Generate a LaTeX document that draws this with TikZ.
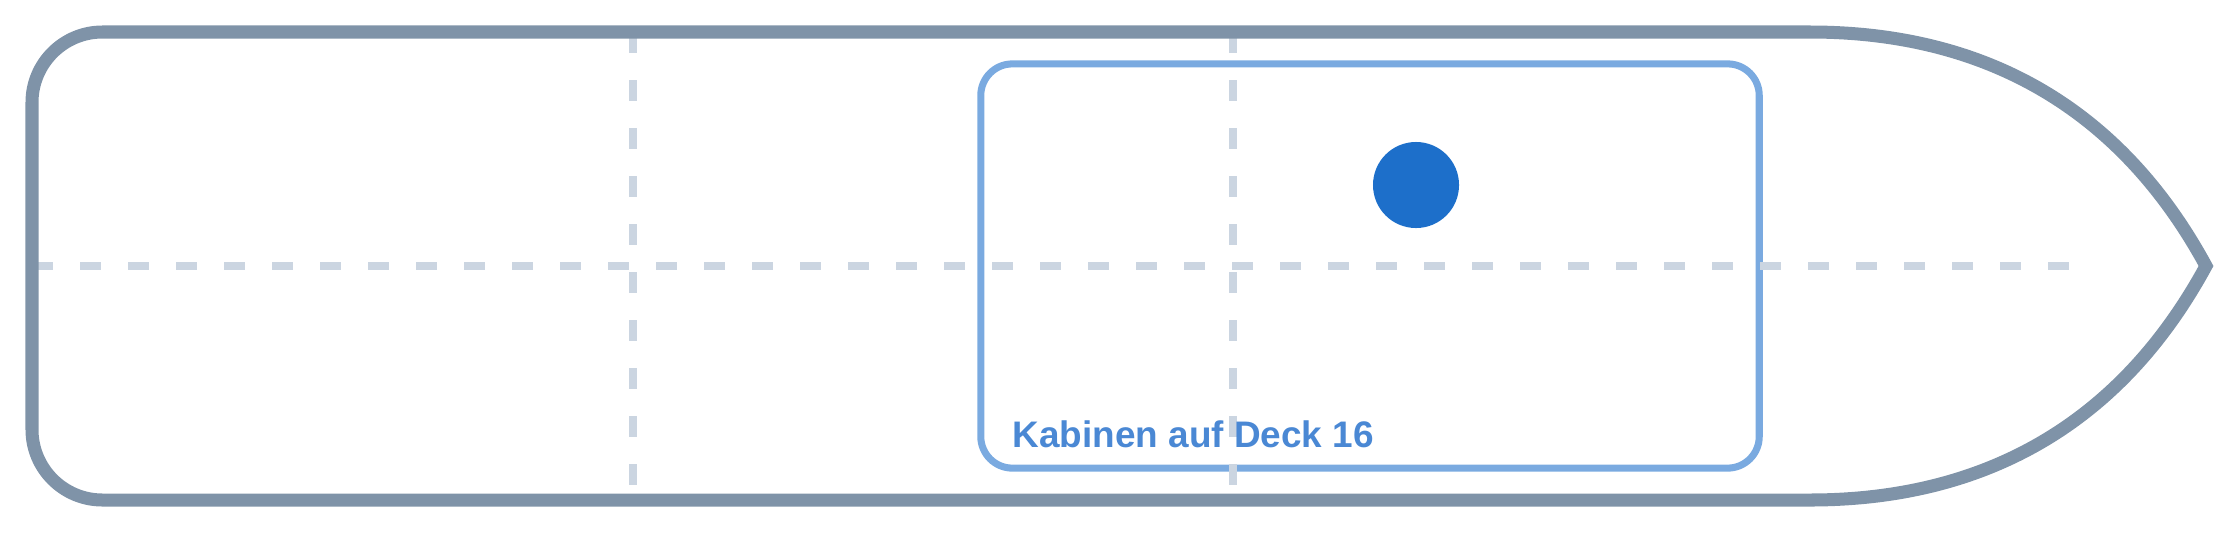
\documentclass[tikz,border=0pt]{standalone}
\usepackage{fontspec}
\setmainfont{Liberation Sans}
\definecolor{hullgray}{RGB}{127,147,168}
\definecolor{deckblue}{RGB}{122,170,224}
\definecolor{gridgray}{RGB}{203,213,225}
\definecolor{dotblue}{RGB}{29,111,202}
\definecolor{textblue}{RGB}{74,136,212}
\begin{document}
\begin{tikzpicture}[x=0.01cm, y=-0.01cm,
    hull/.style = {draw=hullgray, line width=3.7pt, line join=miter},
    deck/.style = {draw=deckblue, line width=2pt, rounded corners=9pt, inner sep=0,
                   minimum width=7.78cm, minimum height=4.04cm},
    grid/.style = {draw=gridgray, line width=2.28pt, dash pattern=on 5.97pt off 7.68pt},
    dot/.style  = {circle, fill=dotblue, inner sep=0, minimum size=0.86cm},
    tag/.style  = {anchor=base west, inner sep=0, text=textblue,
                   font=\fontsize{10.5}{12}\selectfont\bfseries}]
    \useasboundingbox (0,0) rectangle (2240,533);

    \node[deck] (deck16) at (1370,266) {};

    \draw[grid] (32,266)  -- (2075,266);
    \draw[grid] (633,32)  -- (633,490);
    \draw[grid] (1233,32) -- (1233,490);

    \draw[hull] (1810,32) .. controls (1980,32) and (2118,104) .. (2206,266)
                          .. controls (2118,428) and (1980,500) .. (1810,500)
                          [rounded corners=20pt] -- (32,500) -- (32,32) -- (1810,32);

    \node[dot] (pos) at (1416,185) {};
    \node[tag] (cabins) at (1012,447) {Kabinen auf Deck 16};
\end{tikzpicture}
\end{document}
